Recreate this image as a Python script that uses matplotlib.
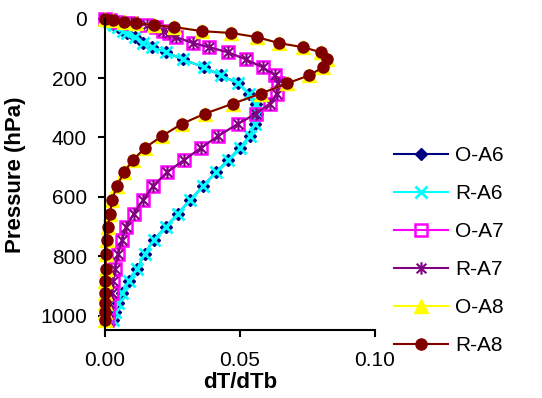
import matplotlib
matplotlib.use('Agg')
import matplotlib.pyplot as plt
from matplotlib.path import Path

plt.rcParams['font.family'] = ['Liberation Sans', 'DejaVu Sans']

# Pressure levels (hPa)
pressure = [1, 4, 11, 15, 21, 28, 42, 48, 62, 82, 96, 113, 137, 164, 191, 218,
            252, 286, 320, 354, 395, 435, 476, 517, 564, 611, 656, 700, 744,
            791, 842, 883, 923, 958, 988, 1015]

# A6 profile (observed and reconstructed almost identical)
o_a6 = [0.000, 0.001, 0.002, 0.003, 0.0035, 0.005, 0.0067, 0.008, 0.011, 0.014,
        0.0174, 0.0226, 0.0289, 0.0367, 0.043, 0.0493, 0.0533, 0.0559, 0.0563,
        0.0556, 0.0537, 0.050, 0.0456, 0.0411, 0.0363, 0.0315, 0.027, 0.0226,
        0.0181, 0.0148, 0.0119, 0.0089, 0.0063, 0.0048, 0.0037, 0.003]
r_a6 = [0.000, 0.001, 0.002, 0.003, 0.0035, 0.005, 0.0067, 0.008, 0.011, 0.014,
        0.0174, 0.0226, 0.0289, 0.0367, 0.043, 0.0493, 0.0533, 0.0559, 0.0563,
        0.0556, 0.0537, 0.050, 0.0456, 0.0411, 0.0363, 0.0315, 0.027, 0.0226,
        0.0181, 0.0148, 0.0119, 0.0089, 0.0063, 0.0048, 0.0037, 0.003]

# A7 profile
o_a7 = [0.000, 0.002, 0.005, 0.0095, 0.0155, 0.019, 0.0215, 0.0237, 0.0263,
        0.0326, 0.0385, 0.0456, 0.0522, 0.0585, 0.063, 0.064, 0.0637, 0.0611,
        0.0559, 0.0493, 0.0419, 0.0356, 0.0293, 0.023, 0.0178, 0.0141, 0.0107,
        0.0078, 0.0063, 0.0048, 0.0037, 0.003, 0.0026, 0.0015, 0.0011, 0.0007]
r_a7 = [0.000, 0.002, 0.005, 0.0095, 0.0155, 0.019, 0.0215, 0.0237, 0.0263,
        0.0326, 0.0385, 0.0456, 0.0522, 0.0585, 0.063, 0.064, 0.0637, 0.0611,
        0.0559, 0.0493, 0.0419, 0.0356, 0.0293, 0.023, 0.0178, 0.0141, 0.0107,
        0.0078, 0.0063, 0.0048, 0.0037, 0.003, 0.0026, 0.0015, 0.0011, 0.0007]

# A8 profile
o_a8 = [0.000, 0.003, 0.007, 0.0115, 0.018, 0.0255, 0.036, 0.0467, 0.0563,
        0.0644, 0.0733, 0.080, 0.0822, 0.0807, 0.0756, 0.0674, 0.0578, 0.0474,
        0.037, 0.0285, 0.0211, 0.0148, 0.0104, 0.007, 0.0044, 0.0026, 0.0019,
        0.0011, 0.0007, 0.0004, 0.0002, 0.0001, 0.0001, 0.0, 0.0, 0.0]
r_a8 = [0.000, 0.003, 0.007, 0.0115, 0.018, 0.0255, 0.036, 0.0467, 0.0563,
        0.0644, 0.0733, 0.080, 0.0822, 0.0807, 0.0756, 0.0674, 0.0578, 0.0474,
        0.037, 0.0285, 0.0211, 0.0148, 0.0104, 0.007, 0.0044, 0.0026, 0.0019,
        0.0011, 0.0007, 0.0004, 0.0002, 0.0001, 0.0001, 0.0, 0.0, 0.0]

# Excel style star marker: an X with a vertical bar
star = Path([(-1, -1), (1, 1), (-1, 1), (1, -1), (0, -1.3), (0, 1.3)],
            [Path.MOVETO, Path.LINETO, Path.MOVETO, Path.LINETO,
             Path.MOVETO, Path.LINETO])

fig = plt.figure(figsize=(5.42, 3.98), dpi=100)
ax = fig.add_axes([0.1937, 0.1696, 0.498, 0.7834])

series = [
    (o_a6, 'O-A6', dict(color='#000080', marker='D', ms=6.5)),
    (r_a6, 'R-A6', dict(color='#00FFFF', marker='x', ms=8.5, mew=2)),
    (o_a7, 'O-A7', dict(color='#FF00FF', marker='s', ms=8, mfc='none', mew=1.8)),
    (r_a7, 'R-A7', dict(color='#800080', marker=star, ms=9, mew=1.5)),
    (o_a8, 'O-A8', dict(color='#FFFF00', marker='^', ms=10)),
    (r_a8, 'R-A8', dict(color='#800000', marker='o', ms=8)),
]
for vals, name, style in series:
    ax.plot(vals, pressure, label=name, lw=1.5, clip_on=False, **style)

ax.set_xlim(0, 0.10)
ax.set_ylim(1050, 0)
ax.set_xticks([0.0, 0.05, 0.10])
ax.set_xticklabels(['0.00', '0.05', '0.10'])
ax.set_yticks([0, 200, 400, 600, 800, 1000])

for side in ['top', 'right']:
    ax.spines[side].set_visible(False)
for side in ['left', 'bottom']:
    ax.spines[side].set_linewidth(1.5)
ax.tick_params(direction='out', length=5, width=1.5, labelsize=15)
ax.tick_params(axis='x', pad=10)
ax.tick_params(axis='y', pad=8)

ax.set_xlabel('dT/dTb', fontsize=16, fontweight='bold', labelpad=1)
ax.set_ylabel('Pressure (hPa)', fontsize=16, fontweight='bold', labelpad=10)

fig.legend(loc='center left', bbox_to_anchor=(0.727, 0.3706), frameon=False,
           fontsize=15, handlelength=2.6, handletextpad=0.35, labelspacing=0.91,
           borderpad=0, borderaxespad=0)

fig.savefig('out.png', dpi=100)
